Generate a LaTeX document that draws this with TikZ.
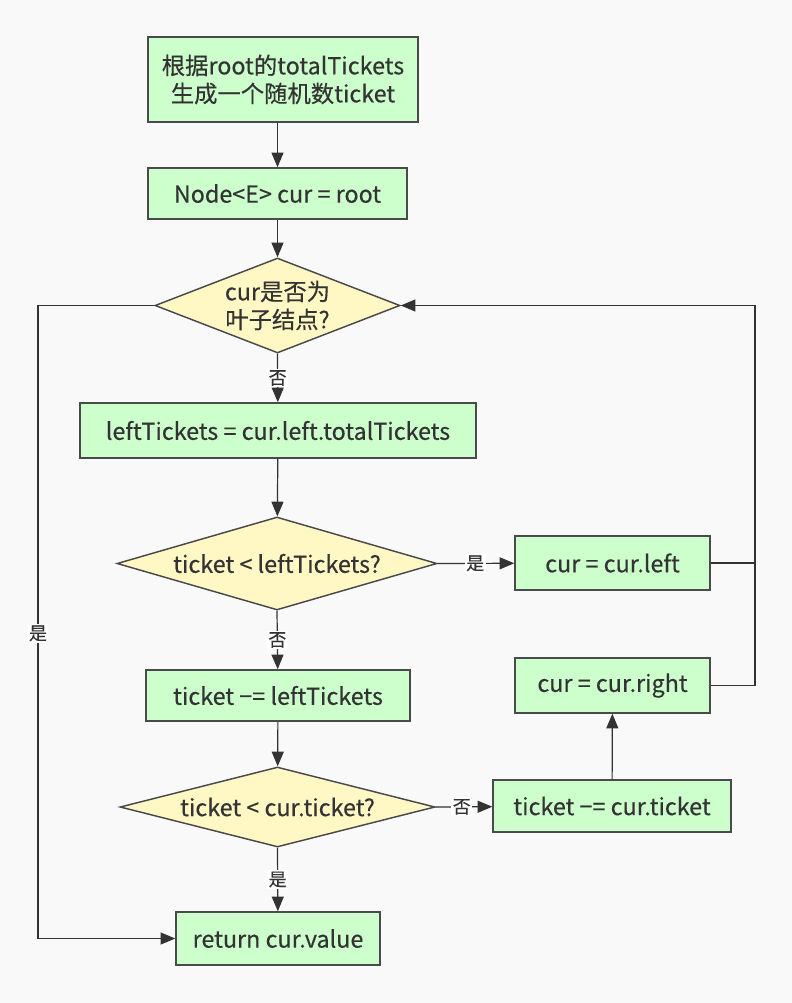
\documentclass[tikz,border=0pt]{standalone}
\usepackage{fontspec}
\setmainfont{Noto Sans CJK SC}[FakeBold=0.35]
\usetikzlibrary{shapes.geometric,arrows.meta}
\definecolor{bg}{HTML}{F9F9F9}
\definecolor{boxfill}{HTML}{CCFFCC}
\definecolor{diafill}{HTML}{FFF7C4}
\definecolor{ln}{HTML}{333333}
\definecolor{bd}{HTML}{4A4A4A}
\begin{document}
\begin{tikzpicture}[x=0.75pt,y=-0.75pt,
  every node/.style={font=\fontsize{17.5}{21}\selectfont, text=ln, align=center},
  proc/.style={draw=bd, fill=boxfill, line width=1.1pt, minimum width=#1, inner sep=0pt, align=center},
  dec/.style={draw=bd, fill=diafill, line width=1.1pt, diamond, inner sep=0pt},
  conn/.style={draw=ln, line width=0.9pt, -{Triangle[length=11pt,width=9pt]}},
  plain/.style={draw=ln, line width=0.9pt},
  lbl/.style={fill=white, inner sep=1pt, font=\fontsize{13.5}{15}\selectfont}
]
\path[fill=bg] (0,0) rectangle (792,1003);
\useasboundingbox (0,0) rectangle (792,1003);

\node[proc=202.5pt, minimum height=63.75pt] (b1) at (283,79.5) {根据root的totalTickets\\生成一个随机数ticket};
\node[proc=194.25pt, minimum height=38.25pt] (b2) at (277.5,193.5) {Node<E> cur = root};
\node[dec, minimum width=183.75pt, minimum height=71.25pt, shape aspect=2.58] (d1) at (277.5,305.5) {};
\node at (277.5,305.5) {cur是否为\\叶子结点?};
\node[proc=297pt, minimum height=41.25pt] (b3) at (278,430.5) {leftTickets = cur.left.totalTickets};
\node[dec, minimum width=240pt, minimum height=69.75pt, shape aspect=3.44] (d2) at (277,563.5) {};
\node at (277,563.5) {ticket < leftTickets?};
\node[proc=146.25pt, minimum height=40.5pt] (cl) at (612.5,563) {cur = cur.left};
\node[proc=198pt, minimum height=38.25pt] (b4) at (278,695.5) {ticket −= leftTickets};
\node[proc=146.25pt, minimum height=41.25pt] (cr) at (612.5,685.5) {cur = cur.right};
\node[dec, minimum width=236.25pt, minimum height=60pt, shape aspect=3.94] (d3) at (277.5,807) {};
\node at (277.5,807) {ticket < cur.ticket?};
\node[proc=178.5pt, minimum height=39pt] (tc) at (612,806) {ticket −= cur.ticket};
\node[proc=153pt, minimum height=39.75pt] (rv) at (278,938.5) {return cur.value};

\coordinate (c1) at (755,563);
\coordinate (c2) at (755,305.5);
\coordinate (c3) at (38,305.5);
\coordinate (c4) at (38,938.5);

\draw[conn] (b1.south -| b2.north) -- (b2.north);
\draw[conn] (b2) -- (d1);
\draw[conn] (d1.south) -- node[lbl, pos=0.5] {否} (b3);
\draw[conn] (b3) -- (d2);
\draw[conn] (d2.east) -- node[lbl, pos=0.49] {是} (cl);
\draw[conn] (d2.south) -- node[lbl, pos=0.5] {否} (b4);
\draw[conn] (b4) -- (d3);
\draw[conn] (d3.east) -- node[lbl, pos=0.46] {否} (tc);
\draw[conn] (d3.south) -- node[lbl, pos=0.5] {是} (rv);
\draw[conn] (tc) -- (cr);
\draw[plain] (cl.east) -- (c1);
\draw[plain] (cr.east) -| (c1);
\draw[conn] (c1) -- (c2) -- (d1.east);
\draw[conn] (d1.west) -- (c3) -- node[lbl, pos=0.518] {是} (c4) -- (rv.west);
\end{tikzpicture}
\end{document}
